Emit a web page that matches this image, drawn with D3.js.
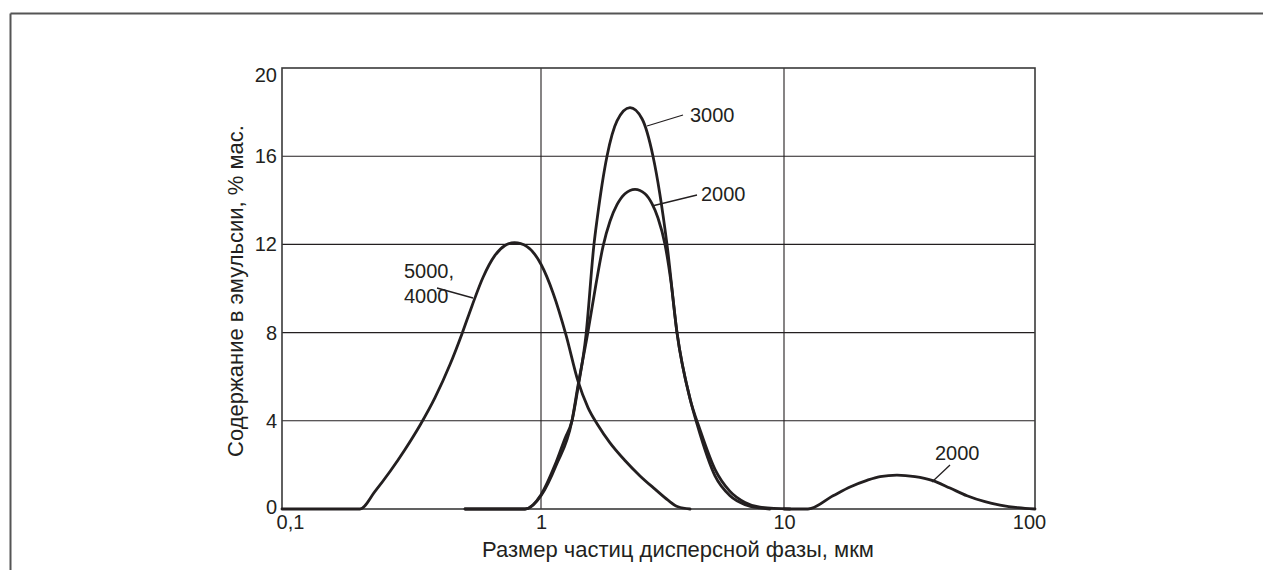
<!DOCTYPE html>
<html>
<head>
<meta charset="utf-8">
<script src="https://cdn.jsdelivr.net/npm/d3@7"></script>
<style>
  html, body { margin: 0; padding: 0; background: #fff; }
  svg text { font-family: "Liberation Sans", Arial, sans-serif; fill: #231f20; }
</style>
</head>
<body>
<svg id="chart" width="1263" height="570"></svg>
<script>
// Particle size distribution of the dispersed phase (µm) vs content in emulsion (% mass)

// Curve "5000, 4000"
const sizeA  = [0.1, 0.200, 0.2286, 0.2612, 0.2985, 0.3411, 0.3897, 0.4453, 0.4955, 0.541, 0.597, 0.664, 0.726, 0.79,  0.883, 1.0,  1.121, 1.267, 1.420, 1.561, 1.716, 1.923, 2.216, 2.556, 2.945, 3.332, 3.663, 4.105];
const valueA = [0,   0,     0.8,    1.7,    2.7,    3.8,    5.05,   6.55,   7.95,   9.2,   10.5,  11.5,  11.95, 12.08, 11.9,  11.1, 9.8,   7.9,   5.8,   4.6,   3.8,   3.0,   2.2,   1.5,   0.9,   0.4,   0.1,   0];

// Curve "3000"
const sizeB  = [0.509, 0.868, 1.0,  1.142, 1.255, 1.341, 1.420, 1.532, 1.652, 1.700, 1.869, 2.055, 2.324, 2.604, 2.890, 3.300, 3.628, 4.105, 4.511, 5.200, 5.995, 6.911, 7.965, 10.56];
const valueB = [0,     0,     0.65, 2.0,   3.2,   4.0,   5.5,   7.9,   12.0,  13.1,  16.0,  17.6,  18.2,  17.7,  16.0,  12.0,  8.0,   5.0,   3.6,   1.8,   0.8,   0.3,   0.08,  0];

// Curve "2000" (main peak)
const sizeC  = [0.509, 0.868, 1.0,  1.156, 1.341, 1.420, 1.553, 1.684, 1.799, 1.923, 2.055, 2.216, 2.437, 2.679, 2.862, 3.030, 3.238, 3.427, 3.628, 4.105, 4.400, 5.200, 5.995, 6.911, 7.965, 8.750];
const valueC = [0,     0,     0.6,  2.0,   4.0,   5.6,   7.9,   10.2,  11.9,  13.05, 13.8,  14.3,  14.5,  14.3,  13.85, 13.2,  12.0,  10.3,  8.0,   5.0,   3.8,   1.5,   0.6,   0.2,   0.05,  0];

// Curve "2000" (coarse fraction)
const sizeD  = [10.0, 12.46, 15.68, 18.32, 21.41, 24.13, 28.19, 33.26, 38.88, 45.85, 53.59, 63.22, 72.54, 85.57, 100];
const valueD = [0,    0,     0.6,   1.0,   1.3,   1.47,  1.54,  1.47,  1.3,   0.95,  0.6,   0.33,  0.18,  0.06,  0];

const xTicks = [0.1, 1, 10, 100];
const xTickLabels = ["0,1", "1", "10", "100"];
const yTicks = [0, 4, 8, 12, 16, 20];
const xGrid = [1, 10];
const yGrid = [4, 8, 12, 16];

const xTitle = "Размер частиц дисперсной фазы, мкм";
const yTitle = "Содержание в эмульсии, % мас.";

const svg = d3.select("#chart");
const ink = "#231f20";

// Outer frame (top and left rules)
svg.append("line").attr("x1", 10.5).attr("y1", 13.5).attr("x2", 1263).attr("y2", 13.5)
  .attr("stroke", "#555").attr("stroke-width", 2);
svg.append("line").attr("x1", 10.5).attr("y1", 13.5).attr("x2", 10.5).attr("y2", 570)
  .attr("stroke", "#555").attr("stroke-width", 2);

const plotLeft = 282, plotRight = 1035, plotTop = 68, plotBottom = 509;

const x = d3.scaleLog().domain([0.1, 1, 10, 100]).range([plotLeft, 541, 784, plotRight]);
const y = d3.scaleLinear().domain([0, 20]).range([plotBottom, plotTop]);

// Grid
const g = svg.append("g");
g.selectAll("line.vg").data(xGrid).join("line")
  .attr("x1", d => x(d)).attr("x2", d => x(d)).attr("y1", plotTop).attr("y2", plotBottom)
  .attr("stroke", ink).attr("stroke-width", 1.1);
g.selectAll("line.hg").data(yGrid).join("line")
  .attr("x1", plotLeft).attr("x2", plotRight).attr("y1", d => y(d)).attr("y2", d => y(d))
  .attr("stroke", ink).attr("stroke-width", 1.1);

// Plot border
g.append("rect").attr("x", plotLeft).attr("y", plotTop)
  .attr("width", plotRight - plotLeft).attr("height", plotBottom - plotTop)
  .attr("fill", "none").attr("stroke", "#3a3a3a").attr("stroke-width", 1.6);

// Axes
const yAxis = d3.axisLeft(y).tickValues(yTicks).tickSize(0).tickPadding(5).tickFormat(d3.format("d"));
const ya = svg.append("g").attr("transform", `translate(${plotLeft},0)`).call(yAxis);
ya.select(".domain").remove();
ya.selectAll("text").attr("font-size", 20).style("fill", ink)
  .attr("dy", d => d === 20 ? "0.69em" : (d === 0 ? "0.2em" : "0.32em"));

const xAxis = d3.axisBottom(x).tickValues(xTicks).tickSize(0).tickPadding(6)
  .tickFormat((d, i) => xTickLabels[i]);
const xa = svg.append("g").attr("transform", `translate(0,${plotBottom})`).call(xAxis);
xa.select(".domain").remove();
xa.selectAll("text").attr("font-size", 20).style("fill", ink)
  .attr("dx", (d, i) => i === 0 ? 8 : (i === xTicks.length - 1 ? -6 : 0));

// Axis titles
svg.append("text").attr("x", 678).attr("y", 557).attr("text-anchor", "middle")
  .attr("font-size", 22).text(xTitle);
svg.append("text").attr("transform", "translate(243,291) rotate(-90)").attr("text-anchor", "middle")
  .attr("font-size", 22).text(yTitle);

// Curves (monotone interpolation keeps the zero baselines flat)
const line = d3.line().x(d => x(d[0])).y(d => y(d[1])).curve(d3.curveMonotoneX);
const series = [
  [sizeA, valueA],
  [sizeB, valueB],
  [sizeC, valueC],
  [sizeD, valueD]
];
svg.append("g").selectAll("path").data(series).join("path")
  .attr("d", s => line(d3.zip(s[0], s[1])))
  .attr("fill", "none").attr("stroke", ink).attr("stroke-width", 2.8)
  .attr("stroke-linejoin", "round").attr("stroke-linecap", "round");

// Curve labels with leader lines
const labels = [
  { lines: ["3000"], tx: 690, ty: 122, l: [647, 126, 683, 115] },
  { lines: ["2000"], tx: 701, ty: 201, l: [652, 206, 697, 195] },
  { lines: ["5000,", "4000"], tx: 404, ty: 278, l: [437, 288, 473, 298] },
  { lines: ["2000"], tx: 935, ty: 460, l: [950, 465, 932, 482] }
];
labels.forEach(lb => {
  svg.append("line").attr("x1", lb.l[0]).attr("y1", lb.l[1]).attr("x2", lb.l[2]).attr("y2", lb.l[3])
    .attr("stroke", ink).attr("stroke-width", 1.3);
  lb.lines.forEach((t, i) => {
    svg.append("text").attr("x", lb.tx).attr("y", lb.ty + i * 25).attr("font-size", 20).text(t);
  });
});
</script>
</body>
</html>
